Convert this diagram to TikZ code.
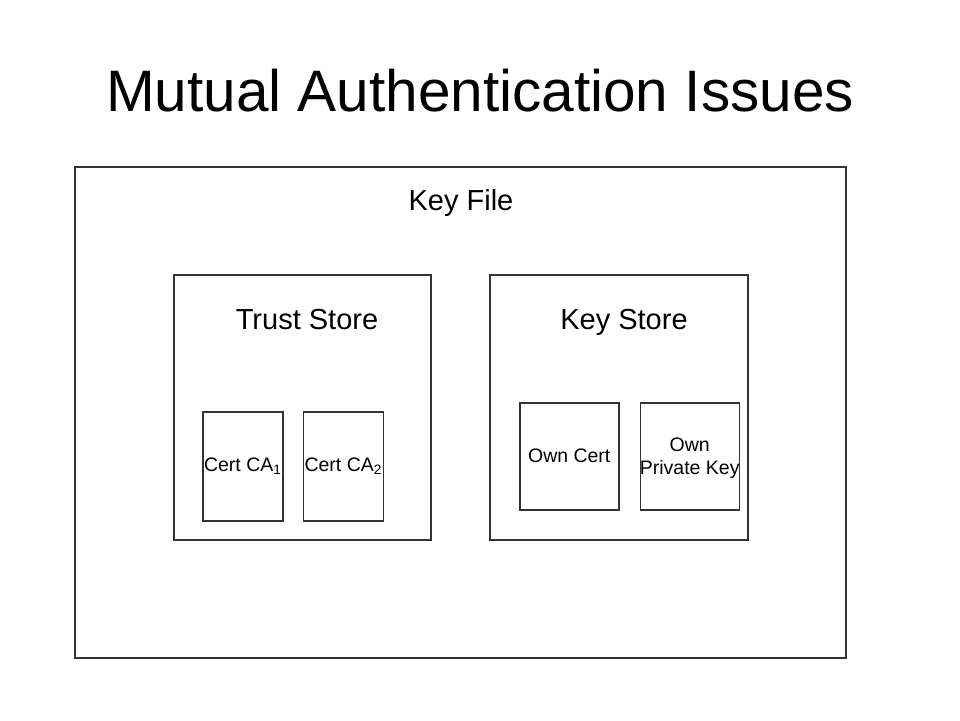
\documentclass[tikz,border=0pt]{standalone}
\usepackage{fontspec}
\setmainfont{Liberation Sans}
\usetikzlibrary{positioning}
\usetikzlibrary{fit}

\tikzset{
  box/.style={draw=black!80,line width=1.5pt,rectangle,inner sep=0pt,anchor=north west},
  titletext/.style={font=\fontsize{58.5}{62}\selectfont,anchor=base},
  headtext/.style={font=\fontsize{29}{32}\selectfont,anchor=base},
  smalltext/.style={font=\fontsize{19.5}{23}\selectfont,align=center,inner sep=0pt}
}

\begin{document}
\begin{tikzpicture}[x=1pt,y=-1pt]

  \useasboundingbox [fill=white] (0,0) rectangle (960,720);

  \node [titletext] (title) at (480,111) {Mutual Authentication Issues};

  % outer file
  \node [box,minimum width=771pt,minimum height=491pt] (keyfile) at (74,166) {};
  \node [headtext] (keyfilelab) at (461,210) {Key File};

  % trust store
  \node [box,minimum width=257pt,minimum height=265pt] (trust) at (173,274) {};
  \node [headtext] (trustlab) at (307,329) {Trust Store};
  \node [box,minimum width=80pt,minimum height=109pt] (ca1) at (202,411) {};
  \node [box,minimum width=80pt,minimum height=109pt,right=19pt of ca1.north east,anchor=north west] (ca2) {};
  \node [smalltext,anchor=base] at ([yshift=-5.5pt]ca1.center) {Cert CA\textsubscript{1}};
  \node [smalltext,anchor=base] at ([yshift=-5.5pt]ca2.center) {Cert CA\textsubscript{2}};

  % key store
  \node [box,minimum width=258pt,minimum height=265pt] (keys) at (489,274) {};
  \node [headtext] (keyslab) at (624,329) {Key Store};
  \node [box,minimum width=99pt,minimum height=107pt] (owncert) at (519,402) {};
  \node [box,minimum width=99pt,minimum height=107pt,right=20pt of owncert.north east,anchor=north west] (ownkey) {};
  \node [smalltext,anchor=base] at ([yshift=-6.5pt]owncert.center) {Own Cert};
  \node [smalltext] at ([yshift=-2pt]ownkey.center) {Own\\Private Key};

\end{tikzpicture}
\end{document}
